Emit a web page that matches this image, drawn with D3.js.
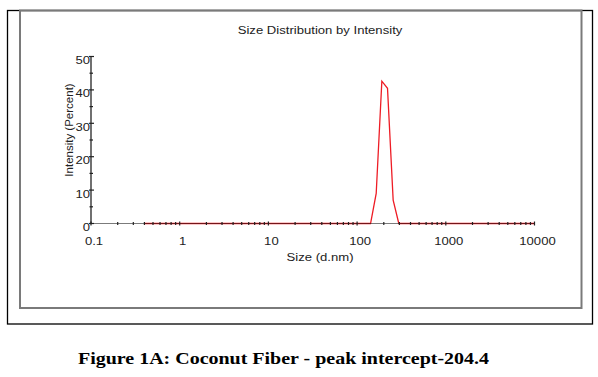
<!DOCTYPE html>
<html>
<head>
<meta charset="utf-8">
<script src="https://cdn.jsdelivr.net/npm/d3@7"></script>
<style>
  html, body { margin: 0; padding: 0; background: #fff; }
  svg { display: block; }
</style>
</head>
<body>
<svg id="chart" width="598" height="377"></svg>
<script>
// Zetasizer size classes (d.nm)
const sizes = [0.4, 0.4632, 0.5365, 0.6213, 0.7195, 0.8332, 0.9649, 1.117, 1.294, 1.499,
  1.736, 2.01, 2.328, 2.696, 3.122, 3.615, 4.187, 4.849, 5.615, 6.503,
  7.531, 8.721, 10.1, 11.7, 13.54, 15.69, 18.17, 21.04, 24.36, 28.21,
  32.67, 37.84, 43.82, 50.75, 58.77, 68.06, 78.82, 91.28, 105.7, 122.4,
  141.8, 164.2, 190.1, 220.2, 255.0, 295.3, 342.0, 396.1, 458.7, 531.2,
  615.1, 712.4, 825.0, 955.4, 1106, 1281, 1484, 1718, 1990, 2305,
  2669, 3091, 3580, 4145, 4801, 5560, 6439, 7456, 8635, 10000];
const intensity = [0, 0, 0, 0, 0, 0, 0, 0, 0, 0,
  0, 0, 0, 0, 0, 0, 0, 0, 0, 0,
  0, 0, 0, 0, 0, 0, 0, 0, 0, 0,
  0, 0, 0, 0, 0, 0, 0, 0, 0, 0,
  0, 9.0, 42.6, 40.5, 7.0, 0, 0, 0, 0, 0,
  0, 0, 0, 0, 0, 0, 0, 0, 0, 0,
  0, 0, 0, 0, 0, 0, 0, 0, 0, 0];
const xTicks = [0.1, 1, 10, 100, 1000, 10000];
const xTickLabels = ["0.1", "1", "10", "100", "1000", "10000"];
const yTicks = [0, 10, 20, 30, 40, 50];
const yMinor = [5, 15, 25, 35, 45];

const chartTitle = "Size Distribution by Intensity";
const xTitle = "Size (d.nm)";
const yTitle = "Intensity (Percent)";
const caption = "Figure 1A: Coconut Fiber - peak intercept-204.4";

const svg = d3.select("#chart");
const font = "'Liberation Sans', Arial, sans-serif";
const stretch = 1.14; // source picture is a bit wider than tall

// horizontal text, slightly stretched like the source
function hText(parent, px, py, str, size, anchor) {
  return parent.append("text")
    .attr("transform", `translate(${px},${py}) scale(${stretch},1)`)
    .attr("text-anchor", anchor || "middle")
    .attr("font-family", font).attr("font-size", size + "px").attr("fill", "#222")
    .text(str);
}

// frames
svg.append("rect").attr("x", 7.5).attr("y", 10.5).attr("width", 585).attr("height", 313.5)
  .attr("fill", "none").attr("stroke", "#000").attr("stroke-width", 1.3);
svg.append("rect").attr("x", 20).attr("y", 10.5).attr("width", 561.5).attr("height", 297.5)
  .attr("fill", "none").attr("stroke", "#7a7a7a").attr("stroke-width", 2);

const x = d3.scaleLog().domain([0.1, 10000]).range([91, 534.5]);
const y = d3.scaleLinear().domain([0, 50]).range([223.5, 56.5]);

hText(svg, 320, 34, chartTitle, 11.5);

// data line
const line = d3.line().x((d, i) => x(sizes[i])).y(d => y(d));
svg.append("path")
  .datum(intensity)
  .attr("d", line)
  .attr("fill", "none")
  .attr("stroke", "#ee1c25")
  .attr("stroke-width", 1.3);

// x axis
const gx = svg.append("g").attr("transform", `translate(0,${y(0)})`);
gx.append("line").attr("x1", x(0.1)).attr("x2", x(10000))
  .attr("stroke", "#111").attr("stroke-width", 1.2).attr("opacity", 0.55);
const minorX = [];
xTicks.slice(0, -1).forEach(t => [2, 3, 4, 5, 6, 7, 8, 9].forEach(m => minorX.push(t * m)));
gx.selectAll(".mx").data(minorX).join("line")
  .attr("x1", d => x(d)).attr("x2", d => x(d)).attr("y1", -1.5).attr("y2", 1.5)
  .attr("stroke", "#222").attr("stroke-width", 1.2);
gx.selectAll(".Mx").data(xTicks).join("line")
  .attr("x1", d => x(d)).attr("x2", d => x(d)).attr("y1", -2).attr("y2", 2)
  .attr("stroke", "#222").attr("stroke-width", 1.2);
xTicks.forEach((t, i) => hText(gx, x(t) + 3, 21, xTickLabels[i], 11.5));
hText(svg, 320, 261, xTitle, 11.5);

// y axis
const gy = svg.append("g").attr("transform", `translate(${x(0.1)},0)`);
gy.append("line").attr("y1", y(0)).attr("y2", y(50))
  .attr("stroke", "#111").attr("stroke-width", 1.2);
gy.selectAll(".my").data(yMinor).join("line")
  .attr("y1", d => y(d)).attr("y2", d => y(d)).attr("x1", -1.5).attr("x2", 2)
  .attr("stroke", "#222").attr("stroke-width", 1.2);
gy.selectAll(".My").data(yTicks).join("line")
  .attr("y1", d => y(d)).attr("y2", d => y(d)).attr("x1", -2).attr("x2", 3)
  .attr("stroke", "#222").attr("stroke-width", 1.2);
yTicks.forEach(t => hText(gy, -1, y(t) + 7.5, t, 11.5, "end"));
svg.append("text")
  .attr("transform", "translate(73,130) rotate(-90)")
  .attr("text-anchor", "middle")
  .attr("font-family", font).attr("font-size", "11.5px").attr("fill", "#222")
  .text(yTitle);

// caption
svg.append("text")
  .attr("x", 283.5).attr("y", 364)
  .attr("text-anchor", "middle")
  .attr("font-family", "'Liberation Serif', 'Times New Roman', serif")
  .attr("font-weight", "bold").attr("font-size", "17px").attr("fill", "#000")
  .attr("textLength", 411).attr("lengthAdjust", "spacingAndGlyphs")
  .text(caption);
</script>
</body>
</html>
